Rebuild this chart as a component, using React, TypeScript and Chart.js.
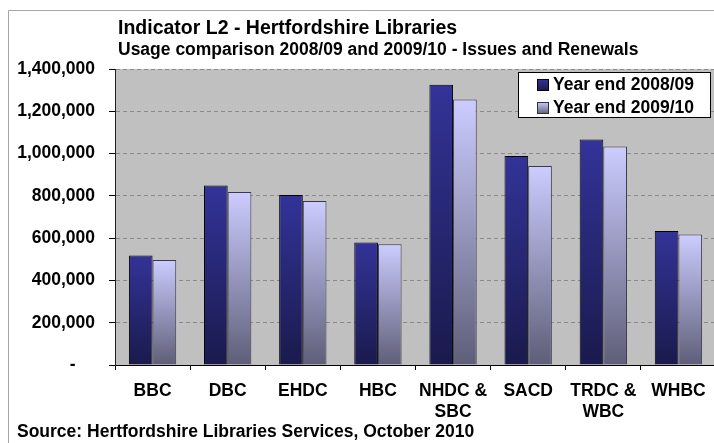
import React, { useEffect, useRef } from 'react';
import { Chart, registerables } from 'chart.js';

Chart.register(...registerables);

// ---- data ----
const categories: string[][] = [
  ['BBC'],
  ['DBC'],
  ['EHDC'],
  ['HBC'],
  ['NHDC &', 'SBC'],
  ['SACD'],
  ['TRDC &', 'WBC'],
  ['WHBC'],
];
const seriesNames = ['Year end 2008/09', 'Year end 2009/10'];
const values0809 = [518000, 849000, 804000, 579000, 1326000, 988000, 1066000, 634000];
const values0910 = [497000, 818000, 776000, 571000, 1256000, 941000, 1033000, 617000];
const yMin = 0;
const yMax = 1400000;
const yStep = 200000;
const titleText = 'Indicator L2 - Hertfordshire Libraries';
const subtitleText = 'Usage comparison 2008/09 and 2009/10 - Issues and Renewals';
const sourceText = 'Source: Hertfordshire Libraries Services, October 2010';

// ---- styles ----
const FONT_FAMILY = '"Liberation Sans", Arial, Helvetica, sans-serif';
const darkTop = '#333399';
const darkBottom = '#1a1a4d';
const lightTop = '#ccccff';
const lightBottom = '#5e5e78';

const barGradient = (top: string, bottom: string) => (ctx: any) => {
  const chart = ctx.chart;
  const y = chart.scales && chart.scales.y;
  if (!chart.chartArea || !y || ctx.type !== 'data') return top;
  const v = typeof ctx.raw === 'number' ? ctx.raw : 0;
  const y0 = y.getPixelForValue(v);
  const y1 = y.getPixelForValue(0);
  if (!isFinite(y0) || !isFinite(y1) || y0 === y1) return top;
  const g = chart.ctx.createLinearGradient(0, y0, 0, y1);
  g.addColorStop(0, top);
  g.addColorStop(1, bottom);
  return g;
};

const overlayPlugin = {
  id: 'overlay',
  beforeDraw(chart: any) {
    const { ctx, chartArea: a } = chart;
    ctx.save();
    ctx.fillStyle = '#ffffff';
    ctx.fillRect(0, 0, chart.width, chart.height);
    ctx.fillStyle = '#c0c0c0';
    ctx.fillRect(a.left, a.top, a.right - a.left, a.bottom - a.top);
    ctx.strokeStyle = '#a6a6a6';
    ctx.lineWidth = 1;
    ctx.beginPath();
    ctx.moveTo(8.5, chart.height);
    ctx.lineTo(8.5, 10.5);
    ctx.lineTo(chart.width, 10.5);
    ctx.stroke();
    ctx.restore();
  },
  afterDraw(chart: any) {
    const { ctx } = chart;
    ctx.save();
    ctx.fillStyle = '#000';
    ctx.textAlign = 'left';
    ctx.textBaseline = 'alphabetic';
    ctx.font = `bold 19.5px ${FONT_FAMILY}`;
    ctx.fillText(titleText, 118, 33.5);
    ctx.font = `bold 17.5px ${FONT_FAMILY}`;
    ctx.fillText(subtitleText, 118, 54.5);
    ctx.fillText(sourceText, 17, 437);

    // legend
    const bx = 518.5, by = 72.5, bw = 192, bh = 45;
    ctx.fillStyle = '#fff';
    ctx.fillRect(bx, by, bw, bh);
    ctx.strokeStyle = '#000';
    ctx.lineWidth = 1;
    ctx.strokeRect(bx, by, bw, bh);
    const rows = [
      { y: 79, top: darkTop, bottom: darkBottom, border: '#000' },
      { y: 102, top: lightTop, bottom: lightBottom, border: '#333' },
    ];
    chart.data.datasets.forEach((ds: any, i: number) => {
      const r = rows[i];
      const g = ctx.createLinearGradient(0, r.y, 0, r.y + 12);
      g.addColorStop(0, r.top);
      g.addColorStop(1, r.bottom);
      ctx.fillStyle = g;
      ctx.fillRect(537, r.y, 12, 12);
      ctx.strokeStyle = r.border;
      ctx.strokeRect(537.5, r.y + 0.5, 11, 11);
      ctx.fillStyle = '#000';
      ctx.font = `bold 17.5px ${FONT_FAMILY}`;
      ctx.fillText(ds.label, 553, r.y + 10.5);
    });
    ctx.restore();
  },
};

function App() {
  const canvasRef = useRef<HTMLCanvasElement | null>(null);

  useEffect(() => {
    const canvas = canvasRef.current;
    if (!canvas) return;
    const chart = new Chart(canvas, {
      type: 'bar',
      data: {
        labels: categories,
        datasets: [
          {
            label: seriesNames[0],
            data: values0809,
            backgroundColor: barGradient(darkTop, darkBottom),
            borderColor: '#000000',
            borderWidth: 1,
            categoryPercentage: 0.63,
            barPercentage: 1.0,
          },
          {
            label: seriesNames[1],
            data: values0910,
            backgroundColor: barGradient(lightTop, lightBottom),
            borderColor: '#3a3a4a',
            borderWidth: 1,
            categoryPercentage: 0.63,
            barPercentage: 1.0,
          },
        ],
      },
      options: {
        animation: false,
        responsive: false,
        devicePixelRatio: 1,
        layout: { padding: { top: 69, left: 0, right: 0, bottom: 0 } },
        plugins: {
          legend: { display: false },
          title: { display: false },
          tooltip: { enabled: false },
        },
        scales: {
          x: {
            type: 'category',
            afterFit: (s: any) => {
              s.height = 78;
            },
            grid: {
              display: true,
              offset: true,
              drawOnChartArea: false,
              drawTicks: true,
              tickLength: 5,
              tickColor: '#000',
              tickWidth: 1,
              tickBorderDash: [],
            },
            border: { display: true, color: '#000', width: 1 },
            ticks: {
              color: '#000',
              font: { family: FONT_FAMILY, size: 17.5, weight: 'bold', lineHeight: 1.234 },
              padding: 10,
              maxRotation: 0,
              minRotation: 0,
              autoSkip: false,
            },
          },
          y: {
            type: 'linear',
            min: yMin,
            max: yMax,
            afterFit: (s: any) => {
              s.width = 115;
            },
            grid: {
              display: true,
              drawOnChartArea: true,
              drawTicks: true,
              tickLength: 6,
              color: (c: any) => (c.tick && c.tick.value === 0 ? 'rgba(0,0,0,0)' : '#8a8a8a'),
              tickColor: '#000',
              tickWidth: 1,
              tickBorderDash: [],
              lineWidth: 1,
            },
            border: { display: true, color: '#222', width: 1, dash: [4, 3] },
            ticks: {
              stepSize: yStep,
              color: '#000',
              padding: 14,
              font: { family: FONT_FAMILY, size: 17.5, weight: 'bold' },
              callback: (v: any) => (Number(v) === 0 ? '-    ' : Number(v).toLocaleString('en-US')),
            },
          },
        },
      } as any,
      plugins: [overlayPlugin],
    });
    return () => {
      chart.destroy();
    };
  }, []);

  return (
    <div style={{ width: 714, height: 443, overflow: 'hidden', position: 'relative' }}>
      <style>{'body{margin:0;}'}</style>
      <canvas
        ref={canvasRef}
        width={716}
        height={443}
        style={{ display: 'block', width: 716, height: 443 }}
      />
    </div>
  );
}

export default App;
